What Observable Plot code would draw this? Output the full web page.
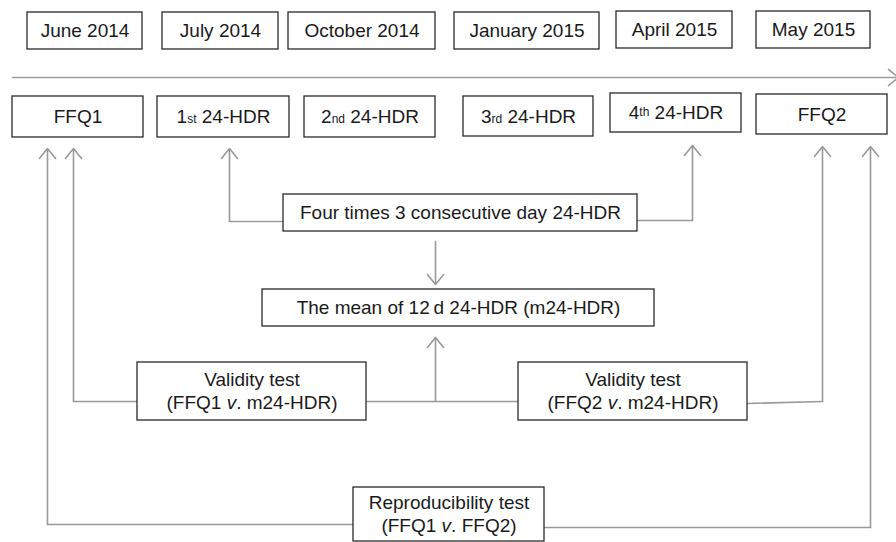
<!DOCTYPE html>
<html><head><meta charset="utf-8">
<script src="https://cdn.jsdelivr.net/npm/d3@7"></script>
<script src="https://cdn.jsdelivr.net/npm/@observablehq/plot@0.6"></script>
<style>body{margin:0;background:#fff}#chart{width:896px;height:542px}</style>
</head><body><div id="chart"></div>
<script>
// ---- content ----
const dateLabels = ["June 2014", "July 2014", "October 2014", "January 2015", "April 2015", "May 2015"];
const instrumentLabels = ["FFQ1", "1^st^ 24-HDR", "2^nd^ 24-HDR", "3^rd^ 24-HDR", "4~th~ 24-HDR", "FFQ2"];
const stepLabels = [
  ["Four times 3 consecutive day 24-HDR"],
  ["The mean of 12\u2009d 24-HDR (m24-HDR)"],
  ["Validity test", "(FFQ1 *v*. m24-HDR)"],
  ["Validity test", "(FFQ2 *v*. m24-HDR)"],
  ["Reproducibility test", "(FFQ1 *v*. FFQ2)"]
];

// ---- layout (diagram coordinates) ----
const dateX1 = [27, 162, 288, 454, 616, 756];
const dateX2 = [142, 278, 435, 599, 732, 870];
const dateY1 = [12, 12, 12, 12, 11, 11];
const dateY2 = [49, 49, 49, 49, 48, 48];
const instX1 = [12, 157, 304, 463, 610, 756];
const instX2 = [143, 289, 435, 593, 741, 887];
const instY1 = [96, 96, 96, 96, 93, 94];
const instY2 = [137, 137, 137, 136, 132, 134];
const stepX1 = [283, 262, 137, 518, 353];
const stepX2 = [637, 654, 366, 747, 544];
const stepY1 = [194, 289, 362, 362, 487];
const stepY2 = [231, 326, 420, 420, 541];

// plain connector polylines (no heads)
const connectorPaths = [
  [[353, 524], [47, 524]],
  [[137, 401], [73, 401]],
  [[283, 221], [229, 221]],
  [[637, 220], [692, 220]],
  [[366, 401], [518, 401]],
  [[747, 403], [822, 401]],
  [[544, 527], [870, 527]]
];
// arrow segments [x1, y1, x2, y2] (head at the second point)
const arrowSegments = [
  [12, 77, 898, 77],
  [47, 524, 47, 148],
  [73, 401, 73, 148],
  [229, 221, 229, 148],
  [692, 220, 692, 145],
  [435, 241, 435, 284],
  [435, 401, 435, 337],
  [822, 401, 822, 146],
  [870, 527, 870, 146]
];

// ---- tables ----
const boxes = [];
const texts = [];
function addBox(x1, x2, y1, y2, lines) {
  boxes.push({x1, x2, y1, y2});
  const cy = (y1 + y2) / 2, cx = (x1 + x2) / 2;
  const n = lines.length, gap = 22.5;
  lines.forEach((t, i) => texts.push({x: cx, y: cy + (i - (n - 1) / 2) * gap, text: t}));
}
dateLabels.forEach((t, i) => addBox(dateX1[i], dateX2[i], dateY1[i], dateY2[i], [t]));
instrumentLabels.forEach((t, i) => addBox(instX1[i], instX2[i], instY1[i], instY2[i], [t]));
stepLabels.forEach((t, i) => addBox(stepX1[i], stepX2[i], stepY1[i], stepY2[i], t));

const linePts = connectorPaths.flatMap((p, k) => p.map(([x, y]) => ({x, y, k})));
const arrows = arrowSegments.map(([x1, y1, x2, y2]) => ({x1, y1, x2, y2}));

const gray = "#9a9a9a";
const font = "'Liberation Sans', Arial, Helvetica, sans-serif";

const chart = Plot.plot({
  width: 896, height: 542,
  margin: 0,
  x: {domain: [0, 896], range: [0, 896], axis: null},
  y: {domain: [0, 542], range: [0, 542], axis: null},
  style: {fontFamily: font, background: "#fff"},
  marks: [
    Plot.line(linePts, {x: "x", y: "y", z: "k", stroke: gray, strokeWidth: 1.6, curve: "linear"}),
    Plot.arrow(arrows, {x1: "x1", y1: "y1", x2: "x2", y2: "y2", stroke: gray, strokeWidth: 1.6, headLength: 12, headAngle: 78}),
    Plot.rect(boxes, {x1: "x1", x2: "x2", y1: "y1", y2: "y2", fill: "white", stroke: "#2a2a2a", strokeWidth: 1.3}),
    Plot.text(texts, {x: "x", y: "y", text: "text", fontSize: 19, fill: "#1a1a1a", fontFamily: font})
  ]
});

// rich text: ^sup^ -> small baseline text, ~sup~ -> small raised text, *it* -> italic
chart.querySelectorAll("text").forEach(el => {
  const s = el.textContent;
  if (!/[\^*~]/.test(s)) return;
  el.textContent = "";
  let shift = 0;
  s.split(/(\^[^^]+\^|~[^~]+~|\*[^*]+\*)/).forEach(part => {
    if (!part) return;
    const ts = document.createElementNS("http://www.w3.org/2000/svg", "tspan");
    if (part[0] === "^") { ts.textContent = part.slice(1, -1); ts.setAttribute("font-size", "12"); }
    else if (part[0] === "~") { ts.textContent = part.slice(1, -1); ts.setAttribute("font-size", "12"); ts.setAttribute("dy", "-3"); shift = 3; }
    else if (part[0] === "*") { ts.textContent = part.slice(1, -1); ts.setAttribute("font-style", "italic"); }
    else { ts.textContent = part; if (shift) { ts.setAttribute("dy", String(shift)); shift = 0; } }
    el.appendChild(ts);
  });
});

document.getElementById("chart").appendChild(chart);
</script>
</body></html>
